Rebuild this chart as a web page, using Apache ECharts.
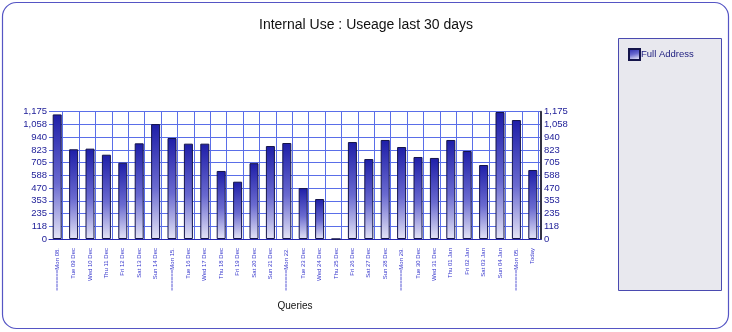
<!DOCTYPE html>
<html>
<head>
<meta charset="utf-8">
<script src="https://cdn.jsdelivr.net/npm/echarts@6/dist/echarts.min.js"></script>
<style>
html,body{margin:0;padding:0;background:#fff;}
#c{width:732px;height:332px;}
</style>
</head>
<body>
<div id="c"></div>
<script>
var categories = ['======Mon 08.', 'Tue 09 Dec', 'Wed 10 Dec', 'Thu 11 Dec', 'Fri 12 Dec', 'Sat 13 Dec', 'Sun 14 Dec',
  '======Mon 15.', 'Tue 16 Dec', 'Wed 17 Dec', 'Thu 18 Dec', 'Fri 19 Dec', 'Sat 20 Dec', 'Sun 21 Dec',
  '======Mon 22.', 'Tue 23 Dec', 'Wed 24 Dec', 'Thu 25 Dec', 'Fri 26 Dec', 'Sat 27 Dec', 'Sun 28 Dec',
  '======Mon 29.', 'Tue 30 Dec', 'Wed 31 Dec', 'Thu 01 Jan', 'Fri 02 Jan', 'Sat 03 Jan', 'Sun 04 Jan',
  '======Mon 05.', 'Today'];
var fullAddress = [1150, 828, 834, 778, 704, 883, 1061, 932, 880, 880, 628, 529, 700, 858, 886, 470, 369, 0,
  895, 738, 914, 849, 757, 748, 914, 812, 683, 1172, 1098, 637];
var yTickLabels = ['0', '118', '235', '353', '470', '588', '705', '823', '940', '1,058', '1,175'];
var seriesName = 'Full Address';
var titleText = 'Internal Use : Useage last 30 days';
var xAxisName = 'Queries';

var yStep = 117.5;
var yMax = 1175;
function yFmt(v) { var i = Math.round(v / yStep); return yTickLabels[i] !== undefined ? yTickLabels[i] : ''; }

var FONT = '"Liberation Sans", Arial, sans-serif';
var barGrad = new echarts.graphic.LinearGradient(0, 0, 0.25, 1, [
  { offset: 0, color: '#1e1ea8' },
  { offset: 0.55, color: '#6a6ad0' },
  { offset: 1, color: '#e4e4f6' }
]);

var chart = echarts.init(document.getElementById('c'), null, { renderer: 'canvas' });
chart.setOption({
  animation: false,
  backgroundColor: '#ffffff',
  textStyle: { fontFamily: FONT },
  title: {
    text: titleText, left: 'center', top: 13,
    textStyle: { fontFamily: FONT, fontSize: 14, fontWeight: 'normal', color: '#111111' }
  },
  legend: {
    left: 623, top: 43, itemWidth: 11, itemHeight: 11, itemGap: 2,
    icon: 'rect',
    textStyle: { fontFamily: FONT, fontSize: 9.5, color: '#202080', padding: [0, 0, 0, -4] },
    data: [seriesName]
  },
  graphic: [
    { type: 'rect', z: -10, shape: { x: 2.5, y: 2.5, width: 726, height: 326, r: 14 },
      style: { fill: '#ffffff', stroke: '#5555c4', lineWidth: 1.2 } },
    { type: 'rect', z: -5, shape: { x: 618.5, y: 38.5, width: 103, height: 252 },
      style: { fill: '#e8e8ee', stroke: '#4a4ab0', lineWidth: 1 } }
  ],
  grid: [
    { left: 49, width: 492, top: 111.7, height: 127.3, containLabel: false },
    { left: 46.3, width: 492, top: 111.7, height: 127.3, containLabel: false }
  ],
  xAxis: [
    {
      type: 'category', gridIndex: 0, data: categories, boundaryGap: true,
      axisLine: { show: true, lineStyle: { color: '#2a2ab0', width: 1 } },
      axisTick: { show: false },
      splitLine: { show: false },
      axisLabel: { rotate: 90, interval: 0, fontSize: 6, color: '#3535cc', margin: 9, fontFamily: FONT },
      name: xAxisName, nameLocation: 'middle', nameGap: 62,
      nameTextStyle: { fontFamily: FONT, fontSize: 10, color: '#111111' }
    },
    {
      type: 'value', gridIndex: 1, min: 0, max: 30, interval: 1,
      axisLine: { show: false }, axisTick: { show: false }, axisLabel: { show: false },
      splitLine: { show: true, showMinLine: false, lineStyle: { color: '#5a6ee8', width: 1 } }
    }
  ],
  yAxis: [
    {
      type: 'value', gridIndex: 0, position: 'left', min: 0, max: yMax, interval: yStep,
      axisLine: { show: false }, axisTick: { show: false },
      axisLabel: { formatter: yFmt, fontSize: 9.5, color: '#22229a', margin: 2, fontFamily: FONT },
      splitLine: { show: true, lineStyle: { color: '#5a6ee8', width: 1 } }
    },
    {
      type: 'value', gridIndex: 0, position: 'right', min: 0, max: yMax, interval: yStep,
      axisLine: { show: true, lineStyle: { color: '#333344', width: 2 } },
      axisTick: { show: false },
      axisLabel: { formatter: yFmt, fontSize: 9.5, color: '#22229a', margin: 3, fontFamily: FONT },
      splitLine: { show: false }
    },
    {
      type: 'value', gridIndex: 1, min: 0, max: yMax, show: false
    }
  ],
  series: [
    {
      name: seriesName, type: 'bar', xAxisIndex: 0, yAxisIndex: 0,
      data: fullAddress, barWidth: 9,
      itemStyle: { color: barGrad, borderColor: '#14144a', borderWidth: 1 },
      z: 5
    }
  ]
});
</script>
</body>
</html>
